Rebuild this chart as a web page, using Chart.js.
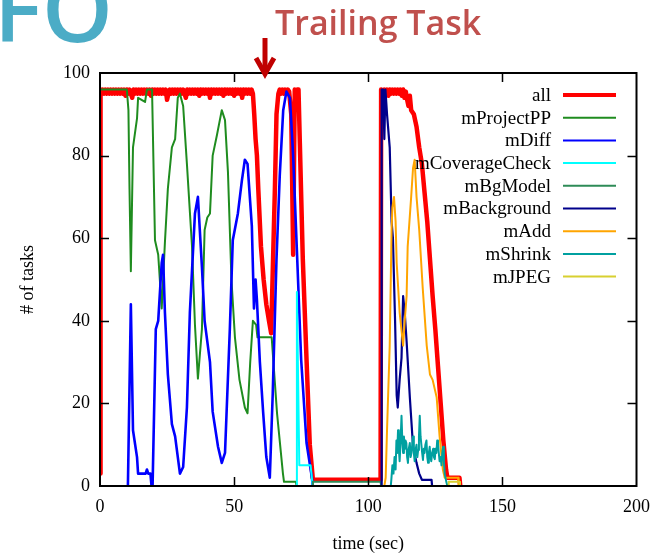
<!DOCTYPE html>
<html>
<head>
<meta charset="utf-8">
<title>Running tasks over time</title>
<script src="https://cdn.jsdelivr.net/npm/chart.js@4.4.1/dist/chart.umd.min.js"></script>
<style>
  html, body { margin: 0; padding: 0; background: #fff; }
  canvas { display: block; }
</style>
</head>
<body>
<canvas id="tasks-chart" width="660" height="555"></canvas>
<script>
const xTicks = [0, 50, 100, 150, 200];
const yTicks = [0, 20, 40, 60, 80, 100];

// each series: [time (sec), number of running tasks]
const allTasks = [
  [0, 3], [0.2, 96], [0.5, 95], [1, 96], [1.5, 95], [2, 96], [2.5, 95], [3, 96], [3.5, 95], [4, 96],
  [4.5, 95], [5, 96], [5.5, 95], [6, 96], [6.5, 95], [7, 96], [7.5, 95], [8, 96], [8.5, 95], [9, 96],
  [9.5, 94.5], [10, 96], [10.5, 95], [11, 96], [11.5, 95], [12, 94], [12.5, 96], [13, 95], [13.5, 96], [14, 95],
  [14.5, 96], [15, 95], [15.5, 96], [16, 95], [16.5, 96], [17, 95], [17.5, 96], [18, 95], [18.5, 96], [19, 94.5],
  [19.5, 96], [20, 95], [20.5, 96], [21, 95], [21.5, 96], [22, 95], [22.5, 96], [23, 95], [23.5, 96], [24, 95],
  [24.5, 96], [25, 93.5], [25.5, 95], [26, 96], [26.5, 95], [27, 96], [27.5, 95], [28, 96], [28.5, 95], [29, 96],
  [29.5, 95], [30, 96], [30.5, 95], [31, 96], [31.5, 95], [32, 94], [32.5, 96], [33, 95], [33.5, 96], [34, 95],
  [34.5, 96], [35, 95], [35.5, 96], [36, 95], [36.5, 96], [37, 94.5], [37.5, 96], [38, 95], [38.5, 96], [39, 95],
  [39.5, 96], [40, 95], [40.5, 96], [41, 94], [41.5, 96], [42, 95], [42.5, 96], [43, 95], [43.5, 96], [44, 95],
  [44.5, 96], [45, 95], [45.5, 96], [46, 94.5], [46.5, 96], [47, 95], [47.5, 96], [48, 95], [48.5, 96], [49, 95],
  [49.5, 96], [50, 94.5], [50.5, 96], [51, 95], [51.5, 96], [52, 95], [52.5, 96], [53, 94], [53.5, 96], [54, 95],
  [54.5, 96], [55, 95], [55.5, 96], [56, 95], [56.5, 96], [57, 95], [57.5, 90], [58, 84], [58.5, 80], [59, 72],
  [60, 58], [61, 50], [62, 44], [63, 40], [63.8, 37], [64.4, 52], [65.2, 72], [65.8, 90], [66.5, 95], [67, 96],
  [67.5, 95], [68, 96], [68.5, 95], [69, 96], [69.5, 95], [70, 96], [70.5, 95.5], [71.3, 90], [72, 56], [72.6, 96],
  [73, 95], [73.5, 96], [74, 96], [74.5, 83], [75.6, 55], [77, 30.5], [78.2, 10], [79.3, 2], [79.6, 1.5], [104.6, 1.5],
  [104.8, 96], [105.5, 95], [106, 96], [106.5, 95], [107, 96], [107.5, 94.5], [108, 96], [108.5, 95], [109, 96], [109.5, 95],
  [110, 96], [110.5, 95], [111, 96], [111.5, 95], [112, 96], [112.5, 94.5], [113, 96], [113.5, 94], [114, 95.5], [114.5, 93.5],
  [115, 92], [115.5, 94.5], [116, 91], [117, 90], [118, 87], [119, 82], [120, 78], [121, 71], [122, 64], [123, 55],
  [124, 46], [125, 38], [126, 29], [127, 20], [128, 11], [129, 4], [129.5, 2], [134, 2], [134.3, 0]
];

const projectTasks = [
  [0.1, 96], [10, 96], [10.6, 91], [11, 72], [11.5, 52], [12.3, 82], [13.8, 89], [14.2, 94], [16.8, 93], [17.5, 96],
  [19.4, 96], [20.5, 59.5], [21.7, 56], [23, 43], [24.2, 59], [25.3, 72], [26.8, 82], [28, 84], [29, 94], [29.8, 95],
  [31, 92], [32.4, 78], [34.3, 58], [35.4, 39], [36.5, 26], [38, 38], [39, 62], [40, 65], [41, 66], [42, 80],
  [43.6, 85], [45.4, 91], [46.6, 88.6], [47.7, 76], [49, 50], [50.3, 36], [52, 25.7], [54, 19], [55, 17.6], [56, 30],
  [57, 40], [58.2, 39], [58.7, 36], [64, 36], [66, 17.6], [68.2, 3], [68.6, 1], [73, 1], [73.3, 0]
];

const diffTasks = [
  [10.4, 0], [11.5, 44], [12.3, 13.5], [13.8, 7], [14.2, 3], [17, 3], [17.5, 4], [18, 3], [18.8, 3], [19.2, 0],
  [19.6, 0], [20.8, 38], [21.7, 40], [23, 54], [23.5, 56], [24.2, 42], [25.3, 27], [26.8, 15], [28, 12], [29.8, 3],
  [31, 4.6], [32.4, 19], [33.5, 42], [35.4, 66], [36.5, 70], [38, 53], [39, 40], [41, 30], [42, 18], [44, 9.5],
  [45.4, 5.6], [46.6, 8], [48.4, 38], [49.5, 59.5], [51.4, 66], [52.9, 74], [54, 79], [55, 78], [56.6, 63], [57.4, 43],
  [58, 50], [58.5, 45], [59.6, 30], [60.8, 18], [62, 7], [63.3, 2], [64.4, 22.5], [65.8, 55], [67, 75], [68.3, 91],
  [69.5, 95.5], [70.8, 94], [72, 80], [73.4, 57], [75, 30.5], [77, 10.4], [79, 2], [79.3, 0]
];

const coverageTasks = [[73.2, 0], [73.4, 47], [74.3, 5], [78.5, 5], [79.3, 0]];

const bgModelTasks = [[79.2, 0], [79.4, 1], [104.6, 1], [104.8, 0]];

const backgroundTasks = [
  [104.8, 0], [105, 96], [105.6, 96], [106, 84], [106.4, 96], [107, 90], [108, 82], [108.7, 64], [109.2, 60], [110, 40],
  [110.6, 22], [111, 19], [111.7, 25.7], [112.4, 31], [113, 46], [113.6, 42], [114.3, 35], [115.5, 21.5], [116.7, 9.5], [118, 5.6],
  [119, 3], [120, 1.5], [123.6, 1.5], [123.8, 0]
];

const addTasks = [
  [106, 0], [106.5, 2], [107, 13.5], [108, 34], [108.7, 62], [109, 67.5], [109.6, 70], [110.2, 64], [110.6, 54], [111.7, 42],
  [113, 34], [113.6, 40], [114.3, 46], [114.7, 58], [116, 70], [116.7, 77], [117.3, 79], [118, 70], [119, 62], [120.3, 48],
  [121.8, 34], [123, 27], [124, 25.7], [125.5, 21.5], [126.6, 12], [127.8, 4], [128.5, 2], [133.5, 2], [133.7, 0]
];

const shrinkTasks = [
  [108.4, 0], [108.6, 1.5], [109, 5], [109.4, 3], [109.8, 7], [110.2, 4], [110.5, 11], [110.8, 8], [111.1, 13.5], [111.4, 9],
  [111.7, 6], [112, 10], [112.4, 17], [112.7, 11], [113, 8], [113.3, 12], [113.6, 9], [113.9, 11], [114.2, 10.4], [114.5, 7],
  [114.8, 5.6], [115.1, 9], [115.5, 10.4], [115.8, 7], [116.1, 8], [116.4, 10], [116.7, 12], [117, 8], [117.3, 6], [117.7, 9],
  [118, 10], [118.3, 7], [118.6, 8.7], [118.9, 12], [119.2, 17], [119.5, 12], [119.8, 10], [120.1, 8], [120.4, 6.3], [120.7, 9],
  [121, 8], [121.3, 10], [121.7, 11], [122, 7], [122.3, 5.6], [122.6, 8], [122.9, 9.5], [123.2, 7], [123.5, 6], [123.8, 8],
  [124.2, 9], [124.5, 7], [124.8, 6.5], [125.1, 9], [125.4, 8], [125.7, 11], [126, 10.4], [126.3, 8], [126.6, 6], [127, 7],
  [127.3, 5], [127.6, 8], [127.9, 9.5], [128.2, 6], [128.5, 3], [129.1, 1], [129.5, 0]
];

const jpegTasks = [[129.8, 0], [130, 1], [134, 1], [134.2, 0]];

const seriesNames = ["all", "mProjectPP", "mDiff", "mCoverageCheck", "mBgModel", "mBackground", "mAdd", "mShrink", "mJPEG"];
const seriesData = [allTasks, projectTasks, diffTasks, coverageTasks, bgModelTasks, backgroundTasks, addTasks, shrinkTasks, jpegTasks];

const lineColors = ["#ff0000", "#1f8c1f", "#0000ff", "#00ffff", "#2e8b57", "#00008b", "#ffa500", "#00a0a0", "#d8d030"];
const lineWidths = [4.5, 2, 2.6, 2, 2, 2.2, 2, 2, 2];

const serif = "'Liberation Serif', 'Times New Roman', serif";
Chart.defaults.font.family = serif;
Chart.defaults.font.size = 18;
Chart.defaults.color = "#000";

// gnuplot-style frame with ticks pointing inwards on all four sides
const frame = {
  id: "frame",
  afterDatasetsDraw(chart) {
    const { ctx, chartArea: a, scales: { x, y } } = chart;
    const len = 9;
    ctx.save();
    ctx.strokeStyle = "#000";
    ctx.lineWidth = 1.5;
    ctx.beginPath();
    xTicks.slice(1, -1).forEach((v) => {
      const px = Math.round(x.getPixelForValue(v)) + 0.5;
      ctx.moveTo(px, a.bottom);
      ctx.lineTo(px, a.bottom - len);
      ctx.moveTo(px, a.top);
      ctx.lineTo(px, a.top + len);
    });
    yTicks.slice(1, -1).forEach((v) => {
      const py = Math.round(y.getPixelForValue(v)) + 0.5;
      ctx.moveTo(a.left, py);
      ctx.lineTo(a.left + len, py);
      ctx.moveTo(a.right, py);
      ctx.lineTo(a.right - len, py);
    });
    ctx.stroke();
    ctx.lineWidth = 2;
    ctx.strokeRect(a.left, a.top, a.right - a.left, a.bottom - a.top);
    ctx.restore();
  },
};

// key in the top right corner: label first, line sample after it
const keyBox = {
  id: "keyBox",
  afterDatasetsDraw(chart) {
    const { ctx } = chart;
    ctx.save();
    ctx.font = "19px " + serif;
    ctx.textAlign = "right";
    ctx.textBaseline = "middle";
    chart.data.datasets.forEach((ds, i) => {
      const rowY = 95 + i * 22.7;
      ctx.fillStyle = "#000";
      ctx.fillText(ds.label, 551, rowY + 1);
      ctx.strokeStyle = ds.borderColor;
      ctx.lineWidth = i === 0 ? 4 : 2;
      ctx.beginPath();
      ctx.moveTo(563, rowY);
      ctx.lineTo(616, rowY);
      ctx.stroke();
    });
    ctx.restore();
  },
};

// slide heading, the cut-off title text and the arrow
const heading = {
  id: "heading",
  afterDraw(chart) {
    const { ctx } = chart;
    ctx.save();
    ctx.textBaseline = "alphabetic";
    ctx.textAlign = "left";
    ctx.fillStyle = "#4bacc6";
    ctx.font = "600 90px 'Open Sans', sans-serif";
    ctx.fillText("FO", -6, 42);
    ctx.fillStyle = "#c0504d";
    ctx.font = "600 34px 'Open Sans', sans-serif";
    ctx.fillText("Trailing Task", 275, 35);

    ctx.strokeStyle = "#c00000";
    ctx.lineWidth = 5;
    ctx.beginPath();
    ctx.moveTo(265, 38);
    ctx.lineTo(265, 72);
    ctx.stroke();
    ctx.lineJoin = "miter";
    ctx.beginPath();
    ctx.moveTo(256, 58);
    ctx.lineTo(265, 74);
    ctx.lineTo(274, 58);
    ctx.stroke();
    ctx.restore();
  },
};

new Chart(document.getElementById("tasks-chart"), {
  type: "line",
  data: {
    datasets: seriesNames.map((name, i) => ({
      label: name,
      data: seriesData[i].map(([t, n]) => ({ x: t, y: n })),
      borderColor: lineColors[i],
      borderWidth: lineWidths[i],
      borderJoinStyle: "round",
      pointRadius: 0,
      tension: 0,
      fill: false,
      // later series are painted over earlier ones
      order: seriesNames.length - i,
    })),
  },
  options: {
    responsive: false,
    animation: false,
    devicePixelRatio: 1,
    layout: { padding: { top: 73, right: 23, left: 0, bottom: 0 } },
    plugins: {
      legend: { display: false },
      tooltip: { enabled: false },
    },
    scales: {
      x: {
        type: "linear",
        min: 0,
        max: 200,
        afterBuildTicks: (axis) => { axis.ticks = xTicks.map((v) => ({ value: v })); },
        afterFit: (axis) => { axis.height = 69; },
        grid: { display: false, drawTicks: false },
        border: { display: false },
        ticks: { padding: 10, maxRotation: 0 },
        title: { display: true, text: "time (sec)", padding: { top: 0, bottom: 0 } },
      },
      y: {
        type: "linear",
        min: 0,
        max: 100,
        afterBuildTicks: (axis) => { axis.ticks = yTicks.map((v) => ({ value: v })); },
        afterFit: (axis) => { axis.width = 100; },
        grid: { display: false, drawTicks: false },
        border: { display: false },
        ticks: { padding: 10 },
        title: { display: true, text: "# of tasks", padding: { top: 17, bottom: 0 } },
      },
    },
  },
  plugins: [frame, keyBox, heading],
});
</script>
</body>
</html>
